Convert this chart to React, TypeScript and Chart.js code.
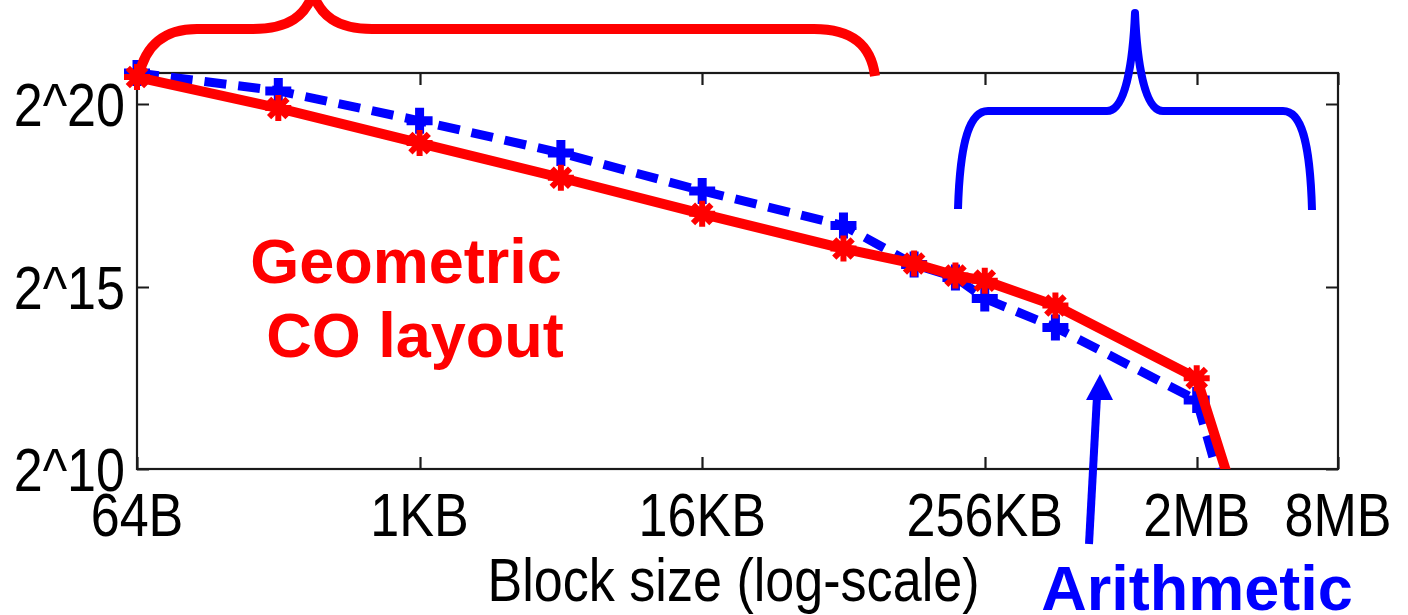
import React, { useEffect, useRef } from "react";
import { Chart, registerables } from "chart.js";

Chart.register(...registerables);

// ---- data ----
const blockSizes = [64, 256, 1024, 4096, 16384, 65536, 131072, 196608, 262144, 524288, 2097152, 3145728];
const geometricValues = [1751000, 971600, 499500, 258500, 130200, 67380, 50710, 40340, 36610, 22850, 5752, 478];
const arithmeticValues = [1890000, 1345700, 762300, 414200, 201400, 104300, 49670, 38970, 26070, 15080, 3795, 239];

const xTickValues = [64, 1024, 16384, 262144, 2097152, 8388608];
const xTickLabels = ["64B", "1KB", "16KB", "256KB", "2MB", "8MB"];
const yTickValues = [1024, 32768, 1048576];
const yTickLabels = ["2^10", "2^15", "2^20"];
const xTitle = "Block size (log-scale)";

const X_MIN = 64;
const X_MAX = 8388608;
const Y_MIN = 1024;
const Y_MAX = 1890000;

const FONT = '"Liberation Sans", Arial, sans-serif';

function squeezedText(ctx: any, text: string, x: number, y: number, align: string, sx: number) {
  ctx.save();
  ctx.translate(x, y);
  ctx.scale(sx, 1);
  ctx.textAlign = align;
  ctx.fillText(text, 0, 0);
  ctx.restore();
}

const boxPlugin = {
  id: "matlabBox",
  beforeDatasetsDraw(chart: any) {
    const { ctx, chartArea, scales } = chart;
    const { left, right, top, bottom } = chartArea;
    ctx.save();
    ctx.strokeStyle = "#1a1a1a";
    ctx.lineWidth = 2.2;
    ctx.strokeRect(left, top, right - left, bottom - top);
    ctx.beginPath();
    const tl = 12;
    xTickValues.forEach((v) => {
      const px = Math.round(scales.x.getPixelForValue(v)) + 0.5;
      ctx.moveTo(px, bottom);
      ctx.lineTo(px, bottom - tl);
      ctx.moveTo(px, top);
      ctx.lineTo(px, top + tl);
    });
    yTickValues.forEach((v) => {
      const py = Math.round(scales.y.getPixelForValue(v)) + 0.5;
      ctx.moveTo(left, py);
      ctx.lineTo(left + tl, py);
      ctx.moveTo(right, py);
      ctx.lineTo(right - tl, py);
    });
    ctx.stroke();

    // axis labels (the original figure's text is horizontally squeezed)
    ctx.fillStyle = "#000";
    ctx.font = `62px ${FONT}`;
    ctx.textBaseline = "alphabetic";
    const sx = 0.84;
    xTickValues.forEach((v, i) => {
      const px = scales.x.getPixelForValue(v);
      squeezedText(ctx, xTickLabels[i], px, 536, "center", sx);
    });
    yTickValues.forEach((v, i) => {
      const py = scales.y.getPixelForValue(v);
      squeezedText(ctx, yTickLabels[i], 125, py + 22, "right", sx);
    });
    squeezedText(ctx, xTitle, (left + right) / 2 - 4, 601, "center", sx);
    ctx.restore();
  },
};

const notesPlugin = {
  id: "notes",
  afterDraw(chart: any) {
    const ctx = chart.ctx;
    ctx.save();
    // red brace
    ctx.strokeStyle = "#ff0000";
    ctx.lineWidth = 10;
    ctx.lineCap = "butt";
    ctx.lineJoin = "round";
    ctx.beginPath();
    ctx.moveTo(139, 76);
    ctx.bezierCurveTo(145, 45, 165, 29, 197, 29);
    ctx.lineTo(253, 29);
    ctx.bezierCurveTo(290, 29, 305, 15, 313, -6);
    ctx.moveTo(313, -6);
    ctx.bezierCurveTo(321, 15, 336, 29, 372, 29);
    ctx.lineTo(814, 29);
    ctx.bezierCurveTo(852, 29, 871, 45, 875, 76);
    ctx.stroke();

    // blue brace
    ctx.strokeStyle = "#0000ff";
    ctx.lineWidth = 8;
    ctx.beginPath();
    ctx.moveTo(958, 209);
    ctx.bezierCurveTo(960, 140, 970, 111, 988, 111);
    ctx.lineTo(1107, 111);
    ctx.bezierCurveTo(1126, 111, 1133, 60, 1135, 13);
    ctx.moveTo(1135, 13);
    ctx.bezierCurveTo(1137, 60, 1144, 111, 1163, 111);
    ctx.lineTo(1283, 111);
    ctx.bezierCurveTo(1301, 111, 1310, 140, 1312, 210);
    ctx.stroke();
    ctx.lineCap = "round";
    ctx.beginPath();
    ctx.moveTo(1135, 13);
    ctx.lineTo(1135, 20);
    ctx.stroke();

    // blue arrow
    ctx.lineCap = "butt";
    ctx.beginPath();
    ctx.moveTo(1089, 544);
    ctx.lineTo(1097, 396);
    ctx.stroke();
    ctx.fillStyle = "#0000ff";
    ctx.beginPath();
    ctx.moveTo(1100, 374);
    ctx.lineTo(1086, 400);
    ctx.lineTo(1113, 400);
    ctx.closePath();
    ctx.fill();

    // texts
    ctx.textAlign = "center";
    ctx.textBaseline = "alphabetic";
    ctx.font = `bold 63px ${FONT}`;
    ctx.fillStyle = "#ff0000";
    ctx.fillText("Geometric", 406, 283);
    ctx.fillText("CO layout", 415, 357);
    ctx.fillStyle = "#0000ff";
    ctx.fillText("Arithmetic", 1197, 610);
    ctx.restore();
  },
};

export default function App() {
  const canvasRef = useRef<HTMLCanvasElement | null>(null);

  useEffect(() => {
    if (!canvasRef.current) return;
    const geometricPoints = blockSizes.map((x, i) => ({ x, y: geometricValues[i] }));
    const arithmeticPoints = blockSizes.map((x, i) => ({ x, y: arithmeticValues[i] }));
    const clip = { left: 30, top: 30, right: 0, bottom: 0 };

    const chart = new Chart(canvasRef.current, {
      type: "line",
      data: {
        datasets: [
          {
            label: "Geometric CO layout",
            data: geometricPoints,
            borderColor: "#ff0000",
            backgroundColor: "#ff0000",
            borderWidth: 10,
            pointStyle: "star",
            pointRadius: 13,
            pointBorderWidth: 6,
            pointBorderColor: "#ff0000",
            pointBackgroundColor: "#ff0000",
            fill: false,
            tension: 0,
            clip,
            order: 0,
          } as any,
          {
            label: "Arithmetic",
            data: arithmeticPoints,
            borderColor: "#0000ff",
            backgroundColor: "#0000ff",
            borderWidth: 9,
            borderDash: [22, 12],
            pointStyle: "cross",
            pointRadius: 13,
            pointBorderWidth: 9,
            pointBorderColor: "#0000ff",
            pointBackgroundColor: "#0000ff",
            fill: false,
            tension: 0,
            clip,
            order: 1,
          } as any,
        ],
      },
      options: {
        animation: false,
        responsive: false,
        devicePixelRatio: 1,
        layout: { padding: { left: 0, top: 73, right: 70, bottom: 0 } },
        plugins: {
          legend: { display: false },
          tooltip: { enabled: false },
        },
        scales: {
          x: {
            type: "logarithmic",
            position: "bottom",
            min: X_MIN,
            max: X_MAX,
            afterBuildTicks: (s: any) => {
              s.ticks = xTickValues.map((v) => ({ value: v }));
            },
            afterFit: (s: any) => {
              s.height = 146;
              s.paddingLeft = 0;
              s.paddingRight = 0;
            },
            ticks: { display: false },
            grid: { display: false, drawTicks: false },
            border: { display: false },
            title: { display: false },
          },
          y: {
            type: "logarithmic",
            position: "left",
            min: Y_MIN,
            max: Y_MAX,
            afterBuildTicks: (s: any) => {
              s.ticks = yTickValues.map((v) => ({ value: v }));
            },
            afterFit: (s: any) => {
              s.width = 137;
              s.paddingTop = 0;
              s.paddingBottom = 0;
            },
            ticks: { display: false },
            grid: { display: false, drawTicks: false },
            border: { display: false },
          },
        },
      } as any,
      plugins: [boxPlugin, notesPlugin],
    });
    return () => chart.destroy();
  }, []);

  return (
    <div style={{ position: "fixed", left: 0, top: 0, width: 1408, height: 615, background: "#fff" }}>
      <canvas ref={canvasRef} width={1408} height={615} style={{ display: "block" }} />
    </div>
  );
}
